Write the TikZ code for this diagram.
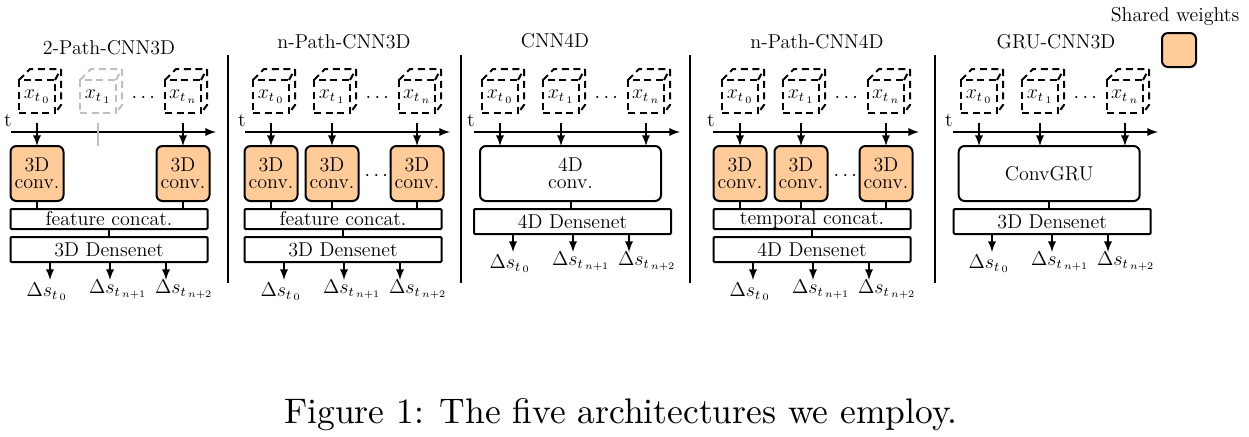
\documentclass[tikz,border=0pt]{standalone}
\usepackage{amsmath}
\usepackage{color}
\definecolor{sharedorange}{rgb}{1,0.80,0.60}
\usepackage{tikz}
\usetikzlibrary{positioning}
\usetikzlibrary{arrows}
\tikzset{
cube/.style={rectangle, draw=#1, line width=1.2pt, dash pattern=on 4.2pt off 2.8pt, text=black, inner sep=0, outer sep=0, minimum width=21.6pt, minimum height=19.8pt, font=\large,
append after command={\pgfextra{\draw[#1, line width=1.2pt, dash pattern=on 4.2pt off 2.8pt] (\tikzlastnode.north west) -- ++(6.6pt,6.6pt) -- ([shift={(3.6pt,6.6pt)}]\tikzlastnode.north east) -- ([shift={(3.6pt,4.8pt)}]\tikzlastnode.south east) -- (\tikzlastnode.south east) (\tikzlastnode.north east) -- ++(3.6pt,6.6pt);}}},
conv_shared/.style={rectangle, rounded corners=3.6pt, draw, line width=1.2pt, fill=sharedorange, align=center, inner sep=0, outer sep=0, minimum width=31.8pt, minimum height=33pt, font=\fontsize{12}{10}\selectfont},
conv_wide/.style={rectangle, rounded corners=3.6pt, draw, line width=1.2pt, align=center, inner sep=0, outer sep=0, minimum width=108.6pt, minimum height=33pt, font=\fontsize{12}{10}\selectfont},
concat/.style={rectangle, rounded corners=0.6pt, draw, line width=1.2pt, inner sep=0, outer sep=0, minimum width=118.2pt, minimum height=12pt, font=\large},
dense/.style={rectangle, rounded corners=0.6pt, draw, line width=1.2pt, inner sep=0, outer sep=0, minimum width=118.2pt, minimum height=15pt, font=\large},
message/.style={rectangle, inner sep=0, font=\large},
flow/.style={-latex, line width=1.2pt},
link/.style={line width=1.2pt},
divider/.style={line width=1.2pt}
}
\begin{document}
\begin{tikzpicture}[x=0.6pt, y=-0.6pt]
    \useasboundingbox (0,0) rectangle (1249,436);

    \foreach \p/\xa/\ghost in {1/19/lightgray, 2/253/black, 3/482/black, 4/722/black, 5/961/black} {
        \node[cube=black] (cube_\p_0) at (\xa+18,96.5) {$x_{t\,_0}$\hspace{2.4pt}};
        \node[cube=\ghost] (cube_\p_1) [right=15pt of cube_\p_0] {$x_{t\,_1}$\hspace{2.4pt}};
        \node[cube=black] (cube_\p_n) [right=29.4pt of cube_\p_1] {$x_{t\,_n}$\hspace{2.4pt}};
        \node[message] (dots_\p) at (\xa+126,98) {$\cdots$};
    }

    \foreach \p/\xa/\xe/\xt in {1/11/216/8, 2/245/450/242, 3/474/680/471, 4/713/919/711, 5/953/1158/949} {
        \coordinate (axis_start_\p) at (\xa,132);
        \coordinate (axis_end_\p) at (\xe,132);
        \draw[flow] (axis_start_\p) -- (axis_end_\p);
        \node[message] (t_\p) at (\xt,120) {t};
    }

    \node[message] (title_1) at (109,48) {2-Path-CNN3D};
    \node[message] (title_2) at (344,42) {n-Path-CNN3D};
    \node[message] (title_3) at (555,41) {CNN4D};
    \node[message] (title_4) at (817,42) {n-Path-CNN4D};
    \node[message] (title_5) at (1056,42) {GRU-CNN3D};

    \node[conv_shared] (conv_1_0) [below=19.8pt of cube_1_0] {3D\\conv.};
    \node[conv_shared] (conv_1_n) [below=19.8pt of cube_1_n] {3D\\conv.};
    \node[concat] (concat_1) [below=4.8pt of conv_1_0.south west, anchor=north west] {feature concat.};
    \node[dense] (dense_1) [below=4.8pt of concat_1] {3D Densenet};

    \node[conv_shared] (conv_2_0) [below=19.8pt of cube_2_0] {3D\\conv.};
    \node[conv_shared] (conv_2_1) [below=19.8pt of cube_2_1] {3D\\conv.};
    \node[conv_shared] (conv_2_n) [below=19.8pt of cube_2_n] {3D\\conv.};
    \node[message] (conv_dots_2) at (378,176) {$\cdots$};
    \node[concat] (concat_2) [below=4.8pt of conv_2_0.south west, anchor=north west] {feature concat.};
    \node[dense] (dense_2) [below=4.8pt of concat_2] {3D Densenet};

    \node[conv_wide] (conv_3) [below=19.8pt of cube_3_1, xshift=5.7pt] {4D\\conv.};
    \node[dense] (dense_3) [below=4.8pt of conv_3.south west, anchor=north west, xshift=-3.6pt] {4D Densenet};

    \node[conv_shared] (conv_4_0) [below=19.8pt of cube_4_0] {3D\\conv.};
    \node[conv_shared] (conv_4_1) [below=19.8pt of cube_4_1] {3D\\conv.};
    \node[conv_shared] (conv_4_n) [below=19.8pt of cube_4_n] {3D\\conv.};
    \node[message] (conv_dots_4) at (847,176) {$\cdots$};
    \node[concat] (concat_4) [below=4.8pt of conv_4_0.south west, anchor=north west] {\raisebox{1.6pt}{temporal concat.}};
    \node[dense] (dense_4) [below=4.8pt of concat_4] {4D Densenet};

    \node[conv_wide] (conv_5) [below=19.8pt of cube_5_1, xshift=5.5pt] {ConvGRU};
    \node[dense] (dense_5) [below=4.8pt of conv_5.south west, anchor=north west, xshift=-3pt] {3D Densenet};

    \draw[flow, shorten <=6pt] (cube_1_0.south) -- (cube_1_0.south |- conv_1_0.north);
    \draw[link, lightgray, shorten <=6pt] (cube_1_1.south) -- (cube_1_1.south |- conv_1_0.north);
    \draw[flow, shorten <=6pt] (cube_1_n.south) -- (cube_1_n.south |- conv_1_n.north);
    \draw[link] (conv_1_0.south) -- (conv_1_0.south |- concat_1.north);
    \draw[link] (conv_1_n.south) -- (conv_1_n.south |- concat_1.north);

    \foreach \p in {2,4} {
        \foreach \i in {0,1,n} {
            \draw[flow, shorten <=6pt] (cube_\p_\i.south) -- (cube_\p_\i.south |- conv_\p_\i.north);
            \draw[link] (conv_\p_\i.south) -- (conv_\p_\i.south |- concat_\p.north);
        }
    }
    \foreach \p in {1,2,4} {
        \draw[link] (concat_\p) -- (dense_\p);
    }

    \foreach \p in {3,5} {
        \foreach \i in {0,1,n} {
            \draw[flow, shorten <=6pt] (cube_\p_\i.south) -- (cube_\p_\i.south |- conv_\p.north);
        }
        \draw[link] (conv_\p.south) -- (conv_\p.south |- dense_\p.north);
    }

    \foreach \p/\dx/\dy in {1/0/0, 2/234/0, 3/463/-28, 4/703/0, 5/942/-28} {
        \node[message, anchor=base] (out_\p_0) at (\dx+47,296+\dy) {$\Delta s_{t\,_0}$};
        \node[message, anchor=base] (out_\p_1) at (\dx+118,293+\dy) {$\Delta s_{t\,_{n+1}}$};
        \node[message, anchor=base] (out_\p_2) at (\dx+184,293+\dy) {$\Delta s_{t\,_{n+2}}$};
        \coordinate (tip_\p_0) at (\dx+50,280+\dy);
        \coordinate (tip_\p_1) at (\dx+110,280+\dy);
        \coordinate (tip_\p_2) at (\dx+166,280+\dy);
        \foreach \i in {0,1,2} {
            \draw[flow] (tip_\p_\i |- dense_\p.south) -- (tip_\p_\i);
        }
    }

    \foreach \p/\xd in {1/228, 2/461, 3/690, 4/935} {
        \coordinate (divider_top_\p) at (\xd,55);
        \coordinate (divider_bottom_\p) at (\xd,283);
        \draw[divider] (divider_top_\p) -- (divider_bottom_\p);
    }

    \node[message] (shared_label) at (1175,17) {Shared weights};
    \node[conv_shared, minimum width=20.4pt, minimum height=20.4pt] (shared_box) at (1179,50) {};

    \node[message, font=\normalsize, scale=2.13] (caption) at (621,415) {Figure 1: The five architectures we employ.};
\end{tikzpicture}
\end{document}
